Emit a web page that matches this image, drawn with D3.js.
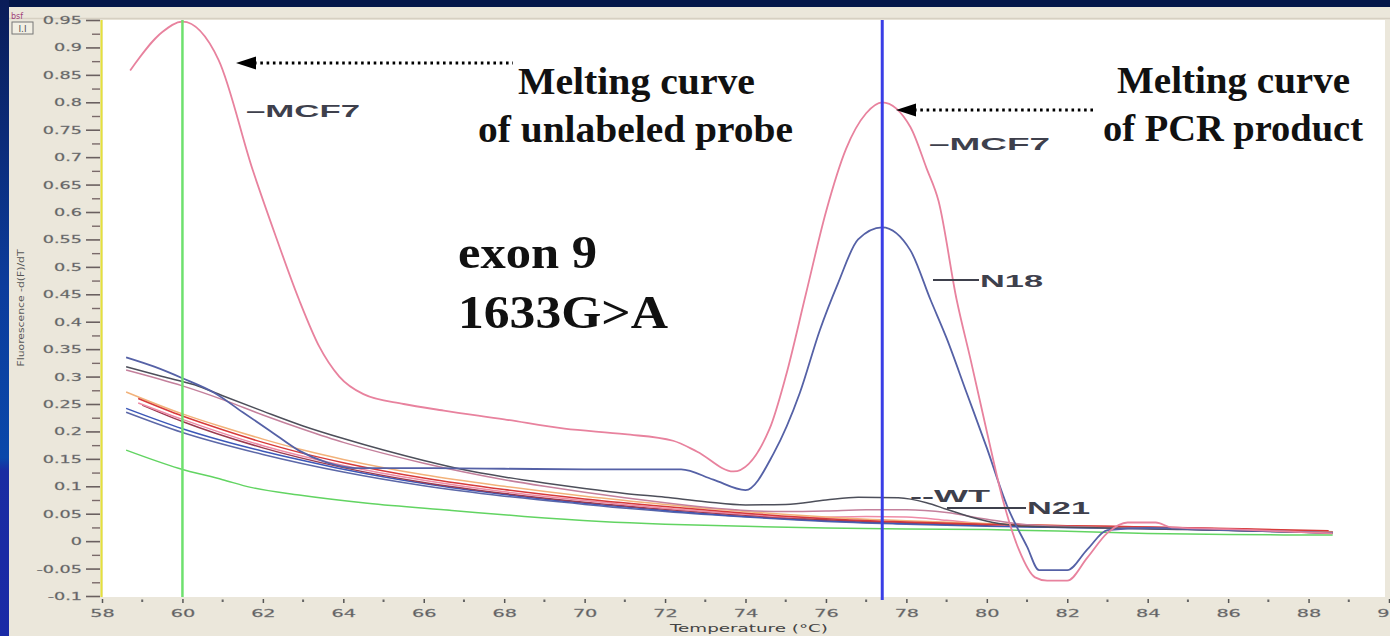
<!DOCTYPE html>
<html>
<head>
<meta charset="utf-8">
<script src="https://cdn.jsdelivr.net/npm/d3@7"></script>
<style>
  html, body { margin: 0; padding: 0; background: #04174a; overflow: hidden; }
  svg { display: block; }
</style>
</head>
<body>
<svg id="chart" width="1390" height="636"></svg>
<script>
// Melting-curve data: derivative fluorescence -d(F)/dT against temperature (°C)
const mcf7 = [[58.7,0.858],[59.5,0.928],[60,0.947],[60.9,0.877],[61.75,0.676],[62.3,0.56],[62.9,0.44],[63.4,0.355],[63.9,0.3],[64.5,0.268],[65.5,0.25],[66.5,0.238],[68,0.222],[69.5,0.205],[71,0.195],[72.2,0.183],[72.8,0.163],[73.7,0.127],[74.6,0.205],[75,0.3],[75.5,0.45],[76,0.6],[76.5,0.715],[77,0.78],[77.4,0.8],[78.1,0.755],[78.5,0.68],[78.8,0.62],[79.25,0.44],[79.6,0.33],[80,0.2],[80.4,0.075],[80.8,-0.016],[81.2,-0.066],[81.5,-0.072],[82,-0.072],[82.5,-0.03],[83,0.015],[83.5,0.034],[84.2,0.034],[84.6,0.025],[86,0.022],[88.6,0.014]];
const n18 = [[58.6,0.335],[59.3,0.318],[60,0.297],[60.8,0.27],[61.5,0.235],[62.2,0.2],[62.9,0.165],[63.6,0.143],[64.3,0.133],[66,0.133],[68,0.132],[70,0.131],[72.4,0.131],[73.2,0.112],[74,0.093],[74.7,0.16],[75.35,0.27],[75.85,0.385],[76.3,0.47],[76.8,0.55],[77.4,0.572],[78.1,0.53],[78.6,0.44],[79,0.37],[79.5,0.27],[80,0.17],[80.5,0.065],[81,-0.01],[81.3,-0.053],[82,-0.053],[82.5,-0.015],[83,0.02],[84,0.024],[86,0.02],[88.6,0.015]];
const wt = [[58.6,0.318],[59.5,0.3],[60.3,0.285],[61,0.265],[62,0.237],[63,0.21],[64,0.187],[65,0.166],[66,0.147],[67,0.13],[68,0.117],[69,0.106],[70,0.096],[71,0.087],[72,0.08],[73,0.072],[74,0.066],[75,0.067],[76,0.075],[76.8,0.08],[77.8,0.079],[78.5,0.07],[79,0.058],[79.6,0.044],[80.3,0.032],[81,0.027],[83,0.024],[85,0.021],[88.6,0.015]];
const n21 = [[58.6,0.312],[60,0.283],[61,0.258],[62,0.23],[63,0.204],[64,0.18],[65,0.16],[66,0.142],[67,0.126],[68,0.112],[69,0.1],[70,0.089],[71,0.079],[72,0.07],[73,0.062],[74,0.056],[75,0.054],[76,0.055],[77,0.057],[78,0.057],[79,0.052],[80,0.04],[81,0.03],[83,0.025],[85,0.022],[88.6,0.015]];
const sampleOrange = [[58.6,0.272],[60,0.232],[61,0.208],[62,0.186],[63,0.166],[64,0.149],[66,0.121],[68,0.1],[70,0.082],[72,0.067],[74,0.054],[76,0.044],[78,0.037],[80,0.032],[82,0.028],[84,0.025],[86,0.021],[88.6,0.016]];
const sampleRed = [[58.9,0.26],[60,0.228],[61,0.203],[62,0.18],[63,0.16],[64,0.143],[66,0.115],[68,0.094],[70,0.077],[72,0.063],[74,0.051],[76,0.041],[78,0.035],[80,0.031],[82,0.028],[84,0.026],[86,0.023],[88.5,0.019]];
const samplePink = [[58.9,0.252],[60,0.222],[62,0.174],[64,0.138],[66,0.111],[68,0.09],[70,0.074],[72,0.06],[74,0.049],[75.5,0.043],[77,0.045],[78,0.044],[79,0.038],[80,0.031],[82,0.028],[84,0.026],[86,0.022],[88.5,0.017]];
const sampleBrown = [[59,0.248],[60,0.218],[62,0.17],[64,0.134],[66,0.107],[68,0.087],[70,0.071],[72,0.058],[74,0.047],[76,0.039],[78,0.034],[80,0.03],[82,0.027],[84,0.025],[86,0.022],[88.6,0.017]];
const sampleBlue = [[58.6,0.242],[60,0.205],[61,0.183],[62,0.164],[63,0.147],[64,0.131],[66,0.105],[68,0.085],[70,0.069],[72,0.056],[74,0.045],[76,0.037],[78,0.032],[80,0.028],[82,0.025],[84,0.023],[86,0.02],[88.6,0.016]];
const sampleSlate = [[58.6,0.235],[60,0.198],[62,0.158],[64,0.126],[66,0.101],[68,0.082],[70,0.067],[72,0.054],[74,0.044],[76,0.036],[78,0.031],[80,0.027],[82,0.025],[84,0.023],[86,0.02],[88.6,0.015]];
const ntc = [[58.6,0.166],[59.9,0.133],[61,0.112],[61.7,0.098],[62.9,0.084],[64.6,0.069],[66.7,0.056],[68.5,0.045],[70.4,0.036],[72,0.031],[74,0.027],[76,0.024],[78,0.022],[80,0.021],[82,0.018],[84,0.014],[86,0.012],[88.6,0.011]];

// Axis ticks and labels
const yTicks = [-0.1,-0.05,0,0.05,0.1,0.15,0.2,0.25,0.3,0.35,0.4,0.45,0.5,0.55,0.6,0.65,0.7,0.75,0.8,0.85,0.9,0.95];
const yTickLabels = ["-0.1","-0.05","0","0.05","0.1","0.15","0.2","0.25","0.3","0.35","0.4","0.45","0.5","0.55","0.6","0.65","0.7","0.75","0.8","0.85","0.9","0.95"];
const xTicks = [58,60,62,64,66,68,70,72,74,76,78,80,82,84,86,88,90];
const xTickLabels = ["58","60","62","64","66","68","70","72","74","76","78","80","82","84","86","88","90"];
const xMinor = [59,61,63,65,67,69,71,73,75,77,79,81,83,85,87,89];

// Marker temperatures (probe Tm and product Tm)
const probeTm = 60;
const productTm = 77.4;

const series = [
  { name: "ntc", data: ntc, color: "#62d462" },
  { name: "slate", data: sampleSlate, color: "#5c68a8" },
  { name: "blue", data: sampleBlue, color: "#3c58b8" },
  { name: "brown", data: sampleBrown, color: "#9a3a50" },
  { name: "pink", data: samplePink, color: "#ee8aa6" },
  { name: "orange", data: sampleOrange, color: "#f2b27a" },
  { name: "red", data: sampleRed, color: "#d63a3a" },
  { name: "N21", data: n21, color: "#c4809c" },
  { name: "WT", data: wt, color: "#4d4f5a" },
  { name: "N18", data: n18, color: "#5561a6" },
  { name: "MCF7", data: mcf7, color: "#e8829e" }
];

const svg = d3.select("#chart");
const W = 1390, H = 636;

const x = d3.scaleLinear().domain([58, 90]).range([102, 1389]);
const y = d3.scaleLinear().domain([-0.1, 0.95]).range([596, 20]);

// Slide background and window frame
const defs = svg.append("defs");
const lg = defs.append("linearGradient").attr("id", "sideGrad").attr("x1", 0).attr("x2", 0).attr("y1", 0).attr("y2", 1);
lg.append("stop").attr("offset", "0%").attr("stop-color", "#0a1c58");
lg.append("stop").attr("offset", "45%").attr("stop-color", "#0c3c9c");
lg.append("stop").attr("offset", "72%").attr("stop-color", "#0a48aa");
lg.append("stop").attr("offset", "74%").attr("stop-color", "#1a2ca2");
lg.append("stop").attr("offset", "100%").attr("stop-color", "#1a2aa6");

svg.append("rect").attr("x", 0).attr("y", 0).attr("width", W).attr("height", H).attr("fill", "#04174a");
svg.append("rect").attr("x", 0).attr("y", 0).attr("width", 9).attr("height", H).attr("fill", "url(#sideGrad)");
svg.append("rect").attr("x", 9).attr("y", 7).attr("width", W - 9).attr("height", H - 7).attr("fill", "#ebe7db");
svg.append("line").attr("x1", 9).attr("x2", W).attr("y1", 18.5).attr("y2", 18.5).attr("stroke", "#d6d0c2").attr("stroke-width", 1.5);

// Plot area
const plotX0 = 103, plotY0 = 20, plotX1 = 1385, plotY1 = 597;
svg.append("rect").attr("x", plotX0).attr("y", plotY0).attr("width", plotX1 - plotX0).attr("height", plotY1 - plotY0).attr("fill", "#ffffff");
defs.append("clipPath").attr("id", "plotClip").append("rect")
  .attr("x", plotX0).attr("y", plotY0).attr("width", plotX1 - plotX0).attr("height", plotY1 - plotY0);

// Small toolbar icon at top-left
svg.append("text").attr("x", 11).attr("y", 19).attr("font-family", "DejaVu Sans").attr("font-size", 8)
  .attr("fill", "#a0407a").text("bsf");
svg.append("rect").attr("x", 12).attr("y", 22).attr("width", 21).attr("height", 12)
  .attr("fill", "#f2efe4").attr("stroke", "#777").attr("stroke-width", 1);
svg.append("text").attr("x", 22.5).attr("y", 32).attr("text-anchor", "middle").attr("font-family", "DejaVu Sans")
  .attr("font-size", 9).attr("fill", "#555").text("I.I");

function stretch(sel, factor) {
  sel.each(function () {
    const n = this.getComputedTextLength();
    d3.select(this).attr("textLength", n * factor).attr("lengthAdjust", "spacingAndGlyphs");
  });
}

// Y axis
const yAxis = svg.append("g").attr("transform", "translate(100,0)")
  .call(d3.axisLeft(y).tickValues(yTicks).tickSize(14).tickPadding(4)
    .tickFormat((d, i) => yTickLabels[i]));
yAxis.select(".domain").remove();
yAxis.selectAll(".tick line").attr("stroke", "#6a6060").attr("stroke-width", 1.6);
yAxis.selectAll(".tick text").attr("font-family", "DejaVu Sans").attr("font-size", 11).attr("fill", "#5a5a5a")
  .attr("stroke", "#8a8a8a").attr("stroke-width", 0.3);
stretch(yAxis.selectAll(".tick text"), 1.6);

const yMinor = yTicks.slice(0, -1).map(v => v + 0.025);
const yAxisMinor = svg.append("g").attr("transform", "translate(100,0)")
  .call(d3.axisLeft(y).tickValues(yMinor).tickSize(8).tickFormat(""));
yAxisMinor.select(".domain").remove();
yAxisMinor.selectAll(".tick line").attr("stroke", "#7a6a6a").attr("stroke-width", 1.4);

svg.append("line").attr("x1", 101.5).attr("x2", 101.5).attr("y1", plotY0).attr("y2", plotY1)
  .attr("stroke", "#e6e23a").attr("stroke-width", 2);

// X axis
const xAxis = svg.append("g").attr("transform", "translate(0,598)")
  .call(d3.axisBottom(x).tickValues(xTicks).tickSize(5).tickPadding(6)
    .tickFormat((d, i) => xTickLabels[i]));
xAxis.select(".domain").remove();
xAxis.selectAll(".tick line").attr("stroke", "#555").attr("stroke-width", 1.5).attr("y1", 1);
xAxis.selectAll(".tick text").attr("font-family", "DejaVu Sans").attr("font-size", 11).attr("fill", "#5a5a5a")
  .attr("stroke", "#8a8a8a").attr("stroke-width", 0.3);
stretch(xAxis.selectAll(".tick text"), 1.75);

svg.append("g").selectAll("rect").data(xMinor).join("rect")
  .attr("x", d => x(d) - 1).attr("y", 599.5).attr("width", 2).attr("height", 2.5).attr("fill", "#666");

// Axis titles
svg.append("text").attr("x", 749).attr("y", 632).attr("text-anchor", "middle")
  .attr("font-family", "DejaVu Sans").attr("font-size", 10).attr("fill", "#444")
  .attr("textLength", 158).attr("lengthAdjust", "spacingAndGlyphs").text("Temperature (°C)");
svg.append("text").attr("transform", "translate(24,308) rotate(-90)").attr("text-anchor", "middle")
  .attr("font-family", "DejaVu Sans").attr("font-size", 9).attr("fill", "#555")
  .attr("textLength", 117).attr("lengthAdjust", "spacingAndGlyphs").text("Fluorescence -d(F)/dT");

// Curves
const line = d3.line().x(d => x(d[0])).y(d => y(d[1])).curve(d3.curveMonotoneX);
const curves = svg.append("g").attr("clip-path", "url(#plotClip)");
curves.selectAll("path").data(series).join("path")
  .attr("d", d => line(d.data))
  .attr("fill", "none")
  .attr("stroke", d => d.color)
  .attr("stroke-width", d => (d.name === "MCF7" || d.name === "N18") ? 1.8 : 1.5)
  .attr("stroke-linejoin", "round");

// Tm marker lines
svg.append("line").attr("x1", x(probeTm)).attr("x2", x(probeTm)).attr("y1", plotY0).attr("y2", plotY1)
  .attr("stroke", "#6ee06e").attr("stroke-width", 2.5);
svg.append("line").attr("x1", x(productTm)).attr("x2", x(productTm)).attr("y1", plotY0).attr("y2", 600)
  .attr("stroke", "#3a3ee6").attr("stroke-width", 3);

// Curve labels
const lblFont = "Liberation Sans";
function curveLabel(tx, ty, w, txt) {
  svg.append("text").attr("x", tx).attr("y", ty).attr("font-family", lblFont).attr("font-weight", "bold")
    .attr("font-size", 17).attr("fill", "#3e404c")
    .attr("textLength", w).attr("lengthAdjust", "spacingAndGlyphs").text(txt);
}
curveLabel(246, 117, 114, "\u2013MCF7");
curveLabel(929, 150, 121, "\u2013MCF7");
svg.append("line").attr("x1", 933).attr("x2", 979).attr("y1", 280).attr("y2", 280).attr("stroke", "#3e404c").attr("stroke-width", 2);
curveLabel(980, 287, 63, "N18");
curveLabel(910, 502, 80, "--WT");
svg.append("line").attr("x1", 947).attr("x2", 1026).attr("y1", 508).attr("y2", 508).attr("stroke", "#3e404c").attr("stroke-width", 2);
curveLabel(1027, 514, 63, "N21");

// Annotation arrows
function dottedArrow(xTip, xEnd, ay) {
  svg.append("line").attr("x1", xTip + 18).attr("x2", xEnd).attr("y1", ay).attr("y2", ay)
    .attr("stroke", "#000").attr("stroke-width", 3).attr("stroke-dasharray", "2.6,3.7");
  svg.append("path").attr("d", `M${xTip},${ay} L${xTip + 20},${ay - 6.5} L${xTip + 20},${ay + 6.5} Z`).attr("fill", "#000");
}
dottedArrow(236, 513, 63);
dottedArrow(896, 1093, 110);

// Annotation text
function note(tx, ty, w, size, txt) {
  svg.append("text").attr("x", tx).attr("y", ty).attr("font-family", "Liberation Serif").attr("font-weight", "bold")
    .attr("font-size", size).attr("fill", "#111")
    .attr("textLength", w).attr("lengthAdjust", "spacingAndGlyphs").text(txt);
}
note(518, 94, 237, 38, "Melting curve");
note(478, 142, 315, 38, "of unlabeled  probe");
note(1117, 93, 233, 38, "Melting curve");
note(1103, 141, 260, 38, "of PCR product");
note(458, 268, 139, 46, "exon 9");
note(458, 328, 210, 46, "1633G>A");
</script>
</body>
</html>
